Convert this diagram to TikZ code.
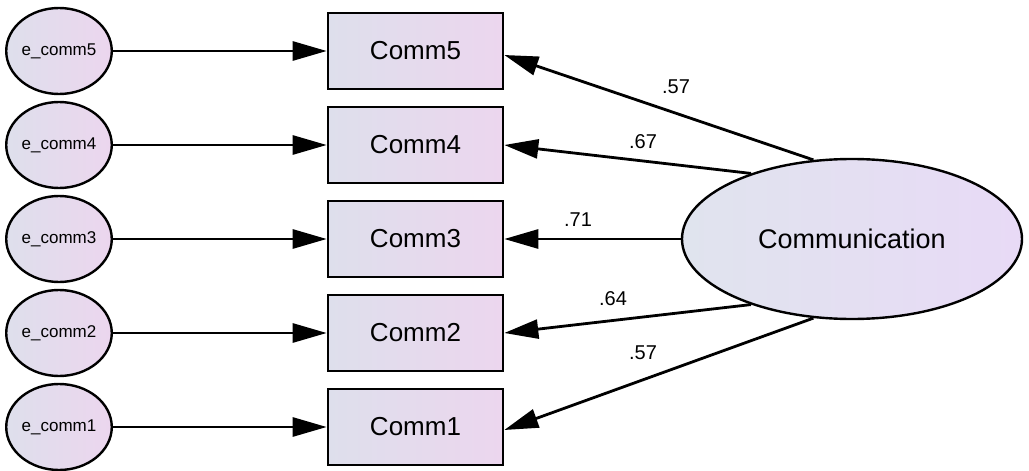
\documentclass[tikz,border=0pt]{standalone}
\usepackage{fontspec}
\setmainfont{Liberation Sans}
\usetikzlibrary{shapes.geometric,arrows.meta}
\definecolor{gl}{RGB}{222,223,236}
\definecolor{gr}{RGB}{236,214,238}
\definecolor{el}{RGB}{224,228,238}
\definecolor{er}{RGB}{232,218,246}
\tikzset{
  errnode/.style={ellipse,draw=black,line width=2.4pt,minimum width=94pt,minimum height=86pt,inner sep=0pt,left color=gl,right color=gr,font=\fontsize{17}{19}\selectfont},
  obsbox/.style={rectangle,draw=black,line width=2.6pt,minimum width=175pt,minimum height=76pt,inner sep=0pt,left color=gl,right color=gr,font=\fontsize{26}{30}\selectfont},
  latent/.style={ellipse,draw=black,line width=2.4pt,minimum width=340pt,minimum height=160pt,inner sep=0pt,left color=el,right color=er,font=\fontsize{27}{31}\selectfont},
  conn/.style={line width=2.8pt,-{Triangle[length=34pt,width=19pt]}},
  wlabel/.style={font=\fontsize{20}{24}\selectfont,inner sep=0pt}
}
\begin{document}
\begin{tikzpicture}[x=1pt,y=-1pt]
\useasboundingbox (0,0) rectangle (1029,471);
\foreach \i/\y in {5/51,4/145,3/239,2/333,1/427}{
  \node[errnode] (e\i) at (59,\y) {e\_comm\i};
  \node[obsbox] (c\i) at (415.5,\y) {Comm\i};
  \draw[conn] (e\i.east) -- (c\i.west);
}
\node[latent] (comm) at (852,239) {Communication};
\draw[conn] (comm.116) -- ([yshift=-4pt]c5.east);
\draw[conn] (comm.147) -- (c4.east);
\draw[conn] (comm.west) -- (c3.east);
\draw[conn] (comm.213) -- (c2.east);
\draw[conn] (comm.244) -- ([yshift=-3pt]c1.east);
\node[wlabel] (l5) at (676,87) {.57};
\node[wlabel] (l4) at (643,142) {.67};
\node[wlabel] (l3) at (578,220) {.71};
\node[wlabel] (l2) at (613,299) {.64};
\node[wlabel] (l1) at (643,353) {.57};
\end{tikzpicture}
\end{document}
